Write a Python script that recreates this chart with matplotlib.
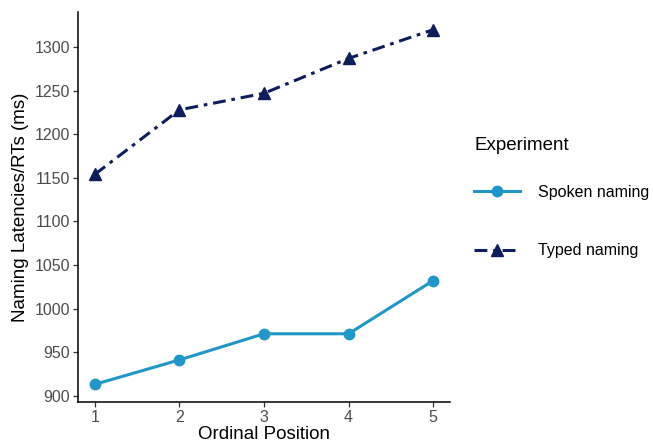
import matplotlib
matplotlib.use("Agg")
import matplotlib.pyplot as plt

plt.rcParams["font.family"] = ["Liberation Sans", "DejaVu Sans"]

# ==========================
# data
# ==========================
positions = [1, 2, 3, 4, 5]
spoken = [913, 941, 971, 971, 1032]
typed = [1154, 1228, 1247, 1287, 1320]
y_ticks = [900, 950, 1000, 1050, 1100, 1150, 1200, 1250, 1300]

spoken_color = "#2196c7"
typed_color = "#0e1e5b"

fig = plt.figure(figsize=(6.53, 4.44), dpi=100)
ax = fig.add_axes([78 / 653, 42 / 444, 372 / 653, 390 / 444])

ax.plot(
    positions, spoken,
    color=spoken_color, linewidth=2.2,
    marker="o", markersize=7.5,
    label="Spoken naming"
)

ax.plot(
    positions, typed,
    color=typed_color, linewidth=2.2,
    linestyle=(0, (4.2, 1.9, 1.2, 1.9)),
    marker="^", markersize=8.5,
    label="Typed naming"
)

ax.set_xlim(0.8, 5.2)
ax.set_ylim(892.7, 1340.3)
ax.set_xticks(positions)
ax.set_yticks(y_ticks)

ax.spines["top"].set_visible(False)
ax.spines["right"].set_visible(False)
for side in ["left", "bottom"]:
    ax.spines[side].set_linewidth(1.1)
    ax.spines[side].set_color("black")

ax.tick_params(
    axis="both", direction="out", length=3.5, width=0.9,
    color="#333333", labelcolor="#4d4d4d", labelsize=11.5, pad=2
)

ax.set_xlabel("Ordinal Position", fontsize=13.5, labelpad=1)
ax.set_ylabel("Naming Latencies/RTs (ms)", fontsize=13.5, labelpad=4)

leg = ax.legend(
    title="Experiment",
    loc="upper left",
    bbox_to_anchor=(474 / 653, 1 - 137 / 444),
    bbox_transform=fig.transFigure,
    frameon=False,
    fontsize=11.5,
    title_fontsize=13.5,
    handlelength=2.9,
    handletextpad=1.1,
    labelspacing=2.75,
    borderaxespad=0,
    borderpad=0
)
leg._legend_box.align = "left"
leg._legend_box.sep = 22

fig.savefig("out.png", dpi=100)
